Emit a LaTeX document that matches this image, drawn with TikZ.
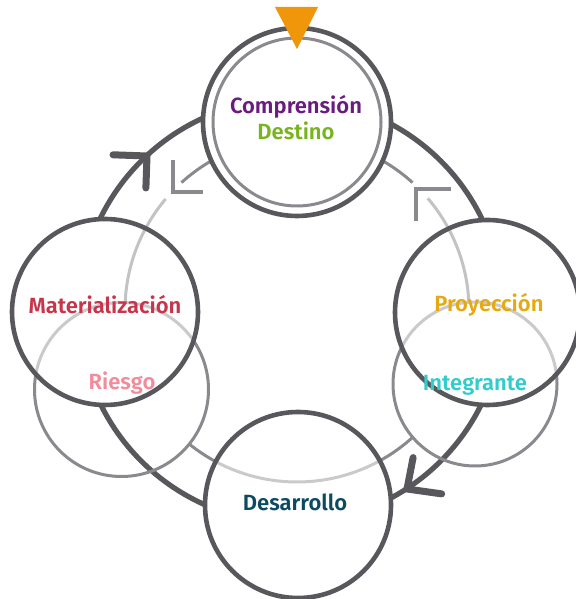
\documentclass[tikz,border=0pt]{standalone}
\usepackage{fontspec}
\setmainfont{Fira Sans}[BoldFont={Fira Sans SemiBold}]
\pgfdeclarelayer{Lone}
\pgfdeclarelayer{Ltwo}
\pgfdeclarelayer{Lthree}
\pgfdeclarelayer{Lfour}
\pgfdeclarelayer{Lfive}
\pgfsetlayers{Lone,Ltwo,Lthree,Lfour,Lfive,main}
\definecolor{darkg}{HTML}{58575C}
\definecolor{midg}{HTML}{8C898E}
\definecolor{lightg}{HTML}{C3C3C3}
\definecolor{cpurple}{HTML}{6A1B80}
\definecolor{cgreen}{HTML}{78B41E}
\definecolor{cred}{HTML}{C8354A}
\definecolor{cpink}{HTML}{F48B9B}
\definecolor{cgold}{HTML}{E6AA10}
\definecolor{ccyan}{HTML}{33CCCC}
\definecolor{cteal}{HTML}{0C4A62}
\definecolor{corange}{HTML}{F0960A}
\begin{document}
\begin{tikzpicture}[x=0.5pt,y=0.5pt,
  bigc/.style={circle,draw=darkg,line width=2.3pt,inner sep=0pt},
  smallc/.style={circle,draw=midg,line width=1.5pt,inner sep=0pt},
  lbl/.style={font=\fontsize{11}{13}\selectfont\bfseries,inner sep=0pt},
  darkring/.style={draw=darkg,line width=2.6pt},
  darkchev/.style={draw=darkg,line width=3.5pt,line cap=round,line join=miter},
  lightchev/.style={draw=midg,line width=2pt,line join=miter},
  midring/.style={draw=midg,line width=1.5pt},
  lightring/.style={draw=lightg,line width=1.5pt}]
\useasboundingbox (0,0) rectangle (576,599);

% big circles (outlines on main layer)
\node[bigc,fill=white,minimum size=94pt] (top) at (297,477) {};
\node[circle,draw=midg,line width=1.5pt,inner sep=0pt,minimum size=84pt] (topin) at (top.center) {};
\node[bigc,minimum size=93pt] (mat) at (105,287) {};
\node[bigc,minimum size=92.5pt] (proy) at (487.5,286.5) {};
\node[bigc,minimum size=93pt] (des) at (298,94) {};

% ring centres
\coordinate (rc) at (291,288);
\coordinate (ic) at (297,289);

% layer 1: dark ring and its arrowheads
\begin{pgfonlayer}{Lone}
  \draw[darkring] (rc) circle[radius=212];
  \coordinate (ca) at (147,443);
  \coordinate (cb) at (407,110);
  \draw[darkchev] ([shift={(178:34)}]ca) -- (ca) -- ([shift={(268:32)}]ca);
  \draw[darkchev] ([shift={(79:32)}]cb) -- (cb) -- ([shift={(-8:35)}]cb);
\end{pgfonlayer}

% layer 2: opaque fills of the big circles
\begin{pgfonlayer}{Ltwo}
  \fill[white] (mat.center) circle[radius=93];
  \fill[white] (proy.center) circle[radius=92.5];
  \fill[white] (des.center) circle[radius=93];
\end{pgfonlayer}

% layer 3: inner ring (mid grey parts) and small circles
\begin{pgfonlayer}{Lthree}
  \draw[midring] (ic) ++(47.8:172) arc[start angle=47.8,end angle=132.2,radius=172];
  \draw[midring] (ic) ++(231:172) arc[start angle=231,end angle=312,radius=172];
  \node[smallc,minimum size=87pt] (ries) at (121.5,209.5) {};
  \node[smallc,minimum size=82pt] (integ) at (475,215) {};
\end{pgfonlayer}

% layer 4: translucent white over the big circles
\begin{pgfonlayer}{Lfour}
  \fill[white,opacity=0.55] (mat.center) circle[radius=93];
  \fill[white,opacity=0.55] (proy.center) circle[radius=92.5];
  \fill[white,opacity=0.55] (des.center) circle[radius=93];
\end{pgfonlayer}

% layer 5: light parts of inner ring
\begin{pgfonlayer}{Lfive}
  \draw[lightring] (ic) ++(139.8:172) arc[start angle=139.8,end angle=177.5,radius=172];
  \draw[lightring] (ic) ++(2.6:172) arc[start angle=2.6,end angle=40.5,radius=172];
\end{pgfonlayer}

% light arrowheads of the inner ring
\coordinate (la) at (173,407);
\coordinate (lb) at (416,410);
\draw[lightchev] ([shift={(90:32)}]la) -- (la) -- ([shift={(0:30)}]la);
\draw[lightchev] ([shift={(0:35)}]lb) -- (lb) -- ([shift={(270:32)}]lb);

% orange marker
\fill[corange] (275,592) -- (318,592) -- (297,550) -- cycle;

% labels
\node[lbl,text=cpurple] (tcomp) at (296,492) {Comprensión};
\node[lbl,text=cgreen] (tdest) at (296,468) {Destino};
\node[lbl,text=cred] (tmat) at (105,294) {Materialización};
\node[lbl,text=cpink] (tries) at (122,216) {Riesgo};
\node[lbl,text=cgold] (tproy) at (489,294) {Proyección};
\node[lbl,text=ccyan] (tint) at (475,214) {Integrante};
\node[lbl,text=cteal] (tdes) at (295,97) {Desarrollo};
\end{tikzpicture}
\end{document}
